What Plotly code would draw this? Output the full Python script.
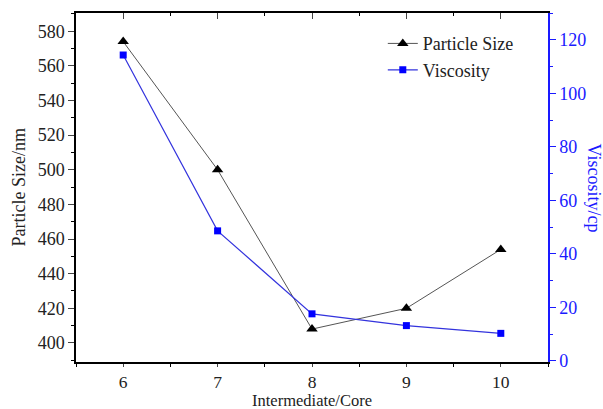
import plotly.graph_objects as go

ratio = [6, 7, 8, 9, 10]
particle_size = [574, 500, 408, 420, 454]
viscosity = [114.3, 48.6, 17.6, 13.2, 10.3]

BLUE = "#1a1aff"
FONT = "Liberation Serif"
FS = 18

fig = go.Figure()
fig.add_trace(go.Scatter(
    x=ratio, y=particle_size, name="Particle Size", mode="lines+markers",
    line=dict(color="#555555", width=1),
    marker=dict(symbol="triangle-up", size=10, color="black"),
    yaxis="y"))
fig.add_trace(go.Scatter(
    x=ratio, y=viscosity, name="Viscosity", mode="lines+markers",
    line=dict(color="#3333dd", width=1.2),
    marker=dict(symbol="square", size=7, color="#0000ff"),
    yaxis="y2"))

fig.update_layout(
    width=603, height=409,
    margin=dict(l=76, r=55, t=13, b=47),
    paper_bgcolor="white", plot_bgcolor="white",
    font=dict(family=FONT, size=FS, color="#222"),
    showlegend=True,
    legend=dict(x=0.65, y=0.965, xanchor="left", yanchor="top",
                bgcolor="rgba(0,0,0,0)", font=dict(size=FS, family=FONT),
                tracegroupgap=0, itemwidth=30),
    xaxis=dict(range=[5.5, 10.5], dtick=1, tick0=6, ticks="outside", ticklen=3,
               showline=True, linecolor="black", linewidth=1.5,
               showgrid=False, zeroline=False, automargin=False,
               tickfont=dict(size=17.5, family=FONT, color="#222"),
               minor=dict(dtick=0.5, tick0=5.5, ticks="outside", ticklen=3, tickcolor="black")),
    xaxis2=dict(range=[5.5, 10.5], dtick=1, tick0=6, overlaying="x", side="top",
                ticks="inside", ticklen=6, showticklabels=False,
                showline=True, linecolor="black", linewidth=1.5,
                showgrid=False, zeroline=False, automargin=False,
                minor=dict(dtick=0.5, tick0=5.5, ticks="inside", ticklen=3, tickcolor="black")),
    yaxis=dict(range=[389, 590.5], dtick=20, tick0=400, ticks="outside", ticklen=6,
               showline=True, linecolor="black", linewidth=1.5,
               showgrid=False, zeroline=False, automargin=False,
               tickfont=dict(size=FS, family=FONT, color="#222"),
               minor=dict(dtick=10, ticks="outside", ticklen=3, tickcolor="black")),
    yaxis2=dict(range=[-0.4, 130], dtick=20, tick0=0, overlaying="y", side="right",
                ticks="outside", ticklen=6, tickcolor=BLUE,
                showline=True, linecolor=BLUE, linewidth=1.5,
                showgrid=False, zeroline=False, automargin=False,
                tickfont=dict(size=FS, family=FONT, color=BLUE),
                minor=dict(dtick=10, ticks="outside", ticklen=3, tickcolor=BLUE)),
)

# dummy trace to activate top axis
fig.add_trace(go.Scatter(x=[6], y=[None], xaxis="x2", yaxis="y", showlegend=False, hoverinfo="skip"))

fig.add_annotation(text="Intermediate/Core", xref="paper", yref="paper",
                   x=0.5, y=0, yshift=-38, yanchor="middle", showarrow=False,
                   font=dict(size=16.5, family=FONT, color="#222"))
fig.add_annotation(text="Particle Size/nm", textangle=-90, xref="paper", yref="paper",
                   x=0, y=0.5, xshift=-58, xanchor="center", showarrow=False,
                   font=dict(size=FS, family=FONT, color="#222"))
fig.add_annotation(text="Viscosity/cp", textangle=90, xref="paper", yref="paper",
                   x=1.0, y=0.5, xshift=46, xanchor="center", showarrow=False,
                   font=dict(size=FS, family=FONT, color=BLUE))

fig.write_html("out.html", config={"displayModeBar": False},
               post_script="document.body.style.margin='0';")
